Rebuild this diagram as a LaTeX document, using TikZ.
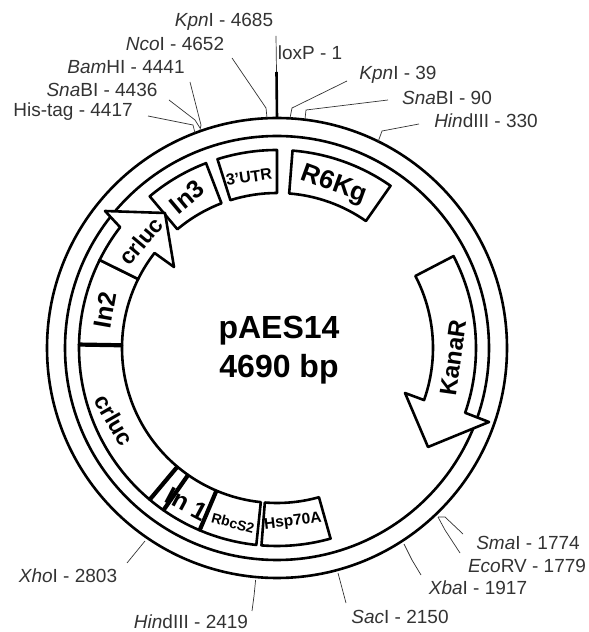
\documentclass[tikz,border=0pt]{standalone}
\usepackage{fontspec}
\usetikzlibrary{positioning}
\setmainfont{Liberation Sans}
\newcommand{\fs}[1]{\fontsize{#1}{#1}\selectfont}
\tikzset{
    ring/.style={line width=2.6pt},
    gene/.style={line width=2.6pt, line join=round},
    divider/.style={line width=4.2pt},
    site/.style={font=\fs{19}, text=black!80, inner sep=0pt},
    leader/.style={line width=0.7pt, black!80},
    genelabel/.style={inner sep=0pt}
}
\begin{document}
\begin{tikzpicture}[x=1pt,y=1pt]
    \useasboundingbox (0,0) rectangle (589,632);

    \begin{scope}[shift={(277,284)}]
        \draw[ring] (0,0) circle[radius=230];
        \draw[ring] (0,0) circle[radius=212];

        \foreach \a/\b in {85.5/55, 90/107.5, 111/130, 153.6/179, 179/230, 230/235, 235/247, 247/264, 265.5/285.7}
            \draw[gene] (\a:198) arc[start angle=\a, end angle=\b, radius=198] -- (\b:155)
                arc[start angle=\b, end angle=\a, radius=155] -- cycle;

        \node[genelabel, font=\bfseries\fs{25}, rotate=-28] (in1) at (-90,-156) {In 1};

        \foreach \a in {179, 230, 235, 247}
            \draw[divider] (\a:155) -- (\a:198);

        \draw[gene, fill=white] (153.6:198) arc[start angle=153.6, end angle=142.4, radius=198]
            -- (-172,137) -- (-112,135) -- (-103,81) -- (142.2:155)
            arc[start angle=142.2, end angle=153.6, radius=155] -- cycle;
        \draw[gene, fill=white] (27.5:199) arc[start angle=27.5, end angle=-19, radius=199]
            -- (212,-74) -- (151,-99) -- (128,-45) -- (-19.5:156)
            arc[start angle=-19.5, end angle=27.5, radius=156] -- cycle;
    \end{scope}

    % restriction sites
    \foreach \n/\lx/\ly/\t/\ax/\ay/\bx/\by/\cx/\cy in {
        ncoA/175/44/{\textit{Nco}I - 4652}/232/58/266/108/267/118,
        bamA/126/67/{\textit{Bam}HI - 4441}/190/82/201/125/200/130,
        snaA/102/90/{\textit{Sna}BI - 4436}/169/100/195/120/200/128,
        hisA/73/112/{His-tag - 4417}/148/116/193/125/195/133,
        kpnB/398/75/{\textit{Kpn}I - 39}/347/81/292/108/290/118,
        snaB/447/98/{\textit{Sna}BI - 90}/388/100/306/110/305/119,
        hinA/486/121/{\textit{Hin}dIII - 330}/419/124/382/131/378/142,
        smaA/528/543/{\textit{Sma}I - 1774}/463/534/445/517/438/517,
        ecoA/527/566/{\textit{Eco}RV - 1779}/460/553/445/530/438/517,
        xbaA/478/588/{\textit{Xba}I - 1917}/421/575/412/560/404/544,
        sacA/400/617/{\textit{Sac}I - 2150}/346/603/342/588/338/573,
        hinB/191/622/{\textit{Hin}dIII - 2419}/252/611/254/596/255.6/580,
        xhoA/68/576/{\textit{Xho}I - 2803}/127/563/136/552/145/541}
    {
        \node[site] (\n) at (\lx,632-\ly) {\t};
        \coordinate (\n s) at (\ax,632-\ay);
        \coordinate (\n e) at (\bx,632-\by);
        \coordinate (\n r) at (\cx,632-\cy);
        \draw[leader] (\n s) -- (\n e) -- (\n r);
    }

    \node[site] (kpnA) at (224,610) {\textit{Kpn}I - 4685};
    \node[site] (loxP) at (310,579) {loxP - 1};
    \coordinate (kpnAs) at (276,596);
    \coordinate (loxTop) at (276.5,560);
    \coordinate (loxBase) at (277,514);
    \draw[leader] (kpnAs) -- (loxTop);
    \draw[ring] (loxTop) -- (loxBase);

    \node[font=\bfseries\fs{32}, inner sep=0pt] (plasmid) at (279,301) {pAES14};
    \node[font=\bfseries\fs{32}, inner sep=0pt, below=8pt of plasmid] (size) {4690 bp};

    \node[genelabel, font=\bfseries\fs{26}, rotate=-20] (r6kg) at (334,447) {R6Kg};
    \node[genelabel, font=\bfseries\fs{16}, rotate=8] (utr) at (249,455) {3'UTR};
    \node[genelabel, font=\bfseries\fs{25}, rotate=40] (in3) at (187,435) {In3};
    \node[genelabel, font=\bfseries\fs{22.5}, rotate=50] (crlucA) at (141,391) {crluc};
    \node[genelabel, font=\bfseries\fs{25}, rotate=80] (in2) at (105,322) {In2};
    \node[genelabel, font=\bfseries\fs{23}, rotate=-60] (crlucB) at (114,212) {crluc};
    \node[genelabel, font=\bfseries\fs{14}, rotate=-15] (rbc) at (233,109) {RbcS2};
    \node[genelabel, font=\bfseries\fs{15.5}, rotate=7] (hsp) at (293,110) {Hsp70A};
    \node[genelabel, font=\bfseries\fs{24}, rotate=82] (kana) at (453,274) {KanaR};
\end{tikzpicture}
\end{document}
